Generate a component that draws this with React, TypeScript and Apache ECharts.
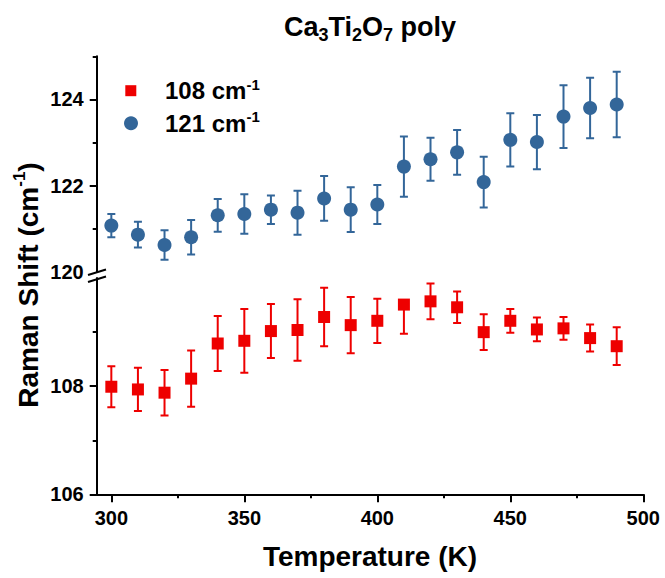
import React, { useEffect, useRef } from "react";
import * as echarts from "echarts";

// Temperature steps (K)
const temps = [300, 310, 320, 330, 340, 350, 360, 370, 380, 390, 400, 410, 420, 430, 440, 450, 460, 470, 480, 490];

// 108 cm-1 mode: peak position and error (cm-1)
const shift108 = [107.99, 107.94, 107.88, 108.14, 108.79, 108.84, 109.02, 109.04, 109.28, 109.13, 109.21, 109.51, 109.57, 109.46, 109.0, 109.21, 109.05, 109.07, 108.89, 108.74];
const err108 = [0.38, 0.4, 0.42, 0.52, 0.51, 0.59, 0.5, 0.57, 0.54, 0.52, 0.41, 0.54, 0.33, 0.29, 0.33, 0.22, 0.22, 0.21, 0.25, 0.35];

// 121 cm-1 mode: peak position and error (cm-1)
const shift121 = [121.07, 120.86, 120.62, 120.8, 121.31, 121.34, 121.44, 121.37, 121.7, 121.44, 121.56, 122.44, 122.61, 122.77, 122.08, 123.06, 123.01, 123.6, 123.8, 123.88];
const err121 = [0.27, 0.3, 0.34, 0.4, 0.38, 0.46, 0.33, 0.51, 0.52, 0.52, 0.45, 0.7, 0.5, 0.52, 0.59, 0.62, 0.63, 0.73, 0.7, 0.76];

// Tick positions
const xMajor = [300, 350, 400, 450, 500];
const xMinor = [325, 375, 425, 475];
const yUpperLabels = [120, 122, 124];
const yUpperMajor = [122, 124];
const yUpperMinor = [121, 123, 125];
const yLowerMajor = [106, 108];
const yLowerMinor = [107, 109];

// Axis ranges on either side of the break
const upperRange = [120, 125];
const lowerRange = [106, 110];

const RED = "#ee0000";
const BLUE = "#336699";
const FONT = "Liberation Sans, Arial, sans-serif";

// Vertical error bar with caps; a half that runs past the axis end is left out
const errorBars = (color: string, yMax: number) => (params: any, api: any) => {
  const x = api.value(0);
  const y = api.value(1);
  const e = api.value(2);
  const c = api.coord([x, y]);
  const hi = api.coord([x, y + e]);
  const lo = api.coord([x, y - e]);
  const hw = 4;
  const style = { stroke: color, lineWidth: 2 };
  const children: any[] = [
    { type: "line", shape: { x1: c[0], y1: c[1], x2: lo[0], y2: lo[1] }, style },
    { type: "line", shape: { x1: lo[0] - hw, y1: lo[1], x2: lo[0] + hw, y2: lo[1] }, style },
  ];
  if (y + e <= yMax) {
    children.push(
      { type: "line", shape: { x1: c[0], y1: c[1], x2: hi[0], y2: hi[1] }, style },
      { type: "line", shape: { x1: hi[0] - hw, y1: hi[1], x2: hi[0] + hw, y2: hi[1] }, style }
    );
  }
  return { type: "group", children };
};

const tickLine = { color: "#000", width: 2 };

export default function App() {
  const ref = useRef<HTMLDivElement>(null);

  useEffect(() => {
    if (!ref.current) return;
    const chart = echarts.init(ref.current, null, { renderer: "svg" });

    const left = 96.7;
    const width = 546.6;
    const xMin = 294.5;
    const xMax = 500;
    const axisLine = { show: true, lineStyle: { color: "#000", width: 2 } };
    const labelStyle = { color: "#000", fontSize: 20, fontWeight: "bold" as const, fontFamily: FONT };

    const supRich = (size: number, sub: number, lh: number) => ({
      b: { fontSize: size, fontWeight: "bold", fontFamily: FONT, lineHeight: lh, fill: "#000" },
      p: { fontSize: sub, fontWeight: "bold", fontFamily: FONT, lineHeight: sub, verticalAlign: "top", fill: "#000" },
    });

    chart.setOption({
      animation: false,
      backgroundColor: "#fff",
      grid: [
        { left, top: 56.3, width, height: 215.4 },
        { left, top: 278.1, width, height: 216.2 },
      ],
      xAxis: [
        { gridIndex: 0, type: "value", min: xMin, max: xMax, show: false },
        {
          gridIndex: 1,
          type: "value",
          position: "bottom",
          min: xMin,
          max: xMax,
          axisLine,
          splitLine: { show: false },
          axisTick: { show: true, customValues: xMajor, length: 8, lineStyle: tickLine },
          axisLabel: { ...labelStyle, customValues: xMajor, margin: 14 },
        },
        {
          gridIndex: 1,
          type: "value",
          position: "bottom",
          min: xMin,
          max: xMax,
          axisLine: { show: false },
          splitLine: { show: false },
          axisTick: { show: true, customValues: xMinor, length: 4, lineStyle: tickLine },
          axisLabel: { show: false },
        },
      ],
      yAxis: [
        {
          gridIndex: 0,
          type: "value",
          position: "left",
          min: upperRange[0],
          max: upperRange[1],
          axisLine,
          splitLine: { show: false },
          axisTick: { show: true, customValues: yUpperMajor, length: 7, lineStyle: tickLine },
          axisLabel: { ...labelStyle, customValues: yUpperLabels, margin: 13 },
        },
        {
          gridIndex: 0,
          type: "value",
          position: "left",
          min: upperRange[0],
          max: upperRange[1],
          axisLine: { show: false },
          splitLine: { show: false },
          axisTick: { show: true, customValues: yUpperMinor, length: 4, lineStyle: tickLine },
          axisLabel: { show: false },
        },
        {
          gridIndex: 1,
          type: "value",
          position: "left",
          min: lowerRange[0],
          max: lowerRange[1],
          axisLine,
          splitLine: { show: false },
          axisTick: { show: true, customValues: yLowerMajor, length: 7, lineStyle: tickLine },
          axisLabel: { ...labelStyle, customValues: yLowerMajor, margin: 13 },
        },
        {
          gridIndex: 1,
          type: "value",
          position: "left",
          min: lowerRange[0],
          max: lowerRange[1],
          axisLine: { show: false },
          splitLine: { show: false },
          axisTick: { show: true, customValues: yLowerMinor, length: 4, lineStyle: tickLine },
          axisLabel: { show: false },
        },
      ],
      series: [
        {
          type: "custom",
          name: "108 err",
          xAxisIndex: 1,
          yAxisIndex: 2,
          clip: true,
          renderItem: errorBars(RED, lowerRange[1]),
          encode: { x: 0, y: 1 },
          data: temps.map((t, i) => [t, shift108[i], err108[i]]),
          z: 2,
        },
        {
          type: "scatter",
          name: "108 cm-1",
          xAxisIndex: 1,
          yAxisIndex: 2,
          symbol: "rect",
          symbolSize: 12,
          itemStyle: { color: RED, opacity: 1 },
          data: temps.map((t, i) => [t, shift108[i]]),
          z: 3,
        },
        {
          type: "custom",
          name: "121 err",
          xAxisIndex: 0,
          yAxisIndex: 0,
          clip: true,
          renderItem: errorBars(BLUE, upperRange[1]),
          encode: { x: 0, y: 1 },
          data: temps.map((t, i) => [t, shift121[i], err121[i]]),
          z: 2,
        },
        {
          type: "scatter",
          name: "121 cm-1",
          xAxisIndex: 0,
          yAxisIndex: 0,
          symbol: "circle",
          symbolSize: 14,
          itemStyle: { color: BLUE, opacity: 1 },
          data: temps.map((t, i) => [t, shift121[i]]),
          z: 3,
        },
      ],
      graphic: [
        // axis break marks
        { type: "line", shape: { x1: 88, y1: 275, x2: 106, y2: 269.5 }, style: { stroke: "#000", lineWidth: 2 } },
        { type: "line", shape: { x1: 88, y1: 282, x2: 106, y2: 276.5 }, style: { stroke: "#000", lineWidth: 2 } },
        // title
        {
          type: "text",
          x: 370,
          y: 27,
          style: {
            text: "{b|Ca}{s|3}{b|Ti}{s|2}{b|O}{s|7}{b| poly}",
            align: "center",
            verticalAlign: "middle",
            fill: "#000",
            rich: {
              b: { fontSize: 27, fontWeight: "bold", fontFamily: FONT, lineHeight: 34, fill: "#000" },
              s: { fontSize: 18, fontWeight: "bold", fontFamily: FONT, lineHeight: 18, verticalAlign: "bottom", fill: "#000" },
            },
          },
        },
        // x axis title
        {
          type: "text",
          x: 370,
          y: 556,
          style: {
            text: "Temperature (K)",
            align: "center",
            verticalAlign: "middle",
            fill: "#000",
            fontSize: 28,
            fontWeight: "bold",
            fontFamily: FONT,
          },
        },
        // y axis title
        {
          type: "text",
          x: 28,
          y: 285,
          rotation: Math.PI / 2,
          style: {
            text: "{b|Raman Shift (cm}{p|-1}{b|)}",
            align: "center",
            verticalAlign: "middle",
            fill: "#000",
            rich: supRich(28, 17, 34),
          },
        },
        // legend
        { type: "rect", shape: { x: 125.3, y: 85.2, width: 11, height: 11 }, style: { fill: RED } },
        { type: "circle", shape: { cx: 131, cy: 123.3, r: 7 }, style: { fill: BLUE } },
        {
          type: "text",
          x: 165,
          y: 90.7,
          style: { text: "{b|108 cm}{p|-1}", verticalAlign: "middle", fill: "#000", rich: supRich(24, 15, 28) },
        },
        {
          type: "text",
          x: 165,
          y: 123.3,
          style: { text: "{b|121 cm}{p|-1}", verticalAlign: "middle", fill: "#000", rich: supRich(24, 15, 28) },
        },
      ],
    });

    return () => chart.dispose();
  }, []);

  return (
    <div
      ref={ref}
      style={{ position: "fixed", left: 0, top: 0, width: 665, height: 578, background: "#fff" }}
    />
  );
}
